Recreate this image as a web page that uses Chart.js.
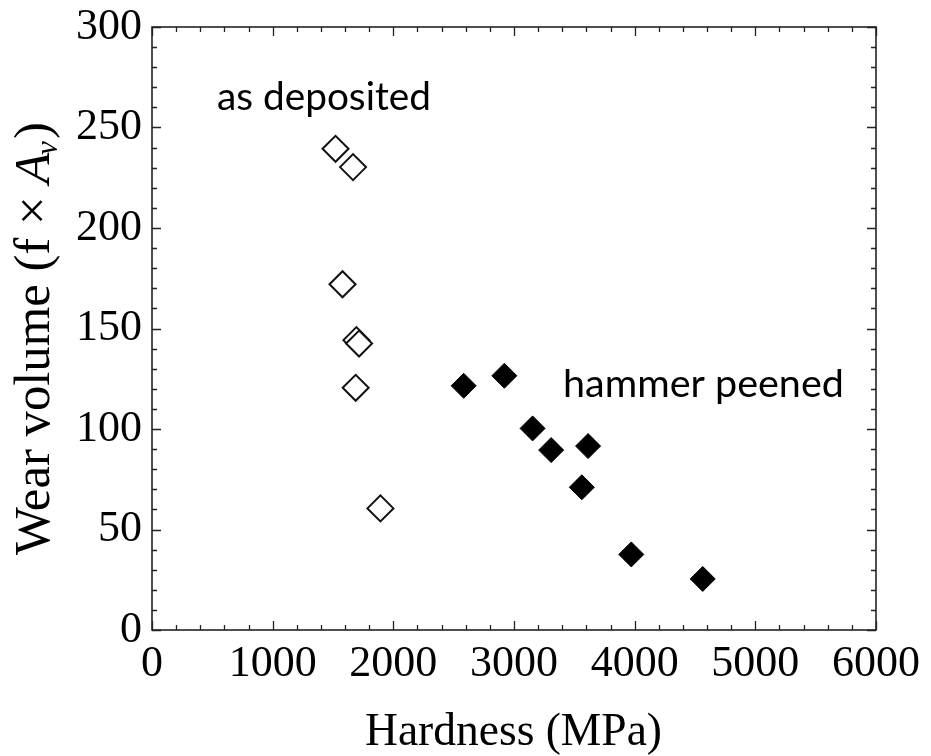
<!DOCTYPE html>
<html><head><meta charset="utf-8">
<script src="https://cdn.jsdelivr.net/npm/chart.js@4.4.0/dist/chart.umd.min.js"></script>
<style>html,body{margin:0;padding:0;background:#fff;overflow:hidden}#wrap{width:931px;height:756px;position:relative}</style>
</head><body><div id="wrap"><canvas id="c"></canvas></div>
<script>
// ---- data ----
const xTickLabels = ['0','1000','2000','3000','4000','5000','6000'];
const yTickLabels = ['0','50','100','150','200','250','300'];
const asDepositedHardness = [1521, 1666, 1579, 1694, 1716, 1688, 1893];
const asDepositedWear     = [239.4, 230.3, 172, 144.2, 142.5, 120.5, 60.5];
const peenedHardness = [2583, 2920, 3154, 3308, 3614, 3562, 3972, 4564];
const peenedWear     = [121.5, 126.5, 100.3, 89.5, 91.5, 71, 37.6, 25.4];
const seriesNames = ['as deposited', 'hammer peened'];
const xTitle = 'Hardness (MPa)';
const yTitleParts = ['Wear volume (f \u00d7 ', 'A', 'v', ')'];

const SERIF = '"Liberation Serif", "Times New Roman", serif';
const SANS = 'Lato, "Open Sans", sans-serif';

function fitFont(ctx, text, family, style, targetW) {
  ctx.font = style + '40px ' + family;
  const w = ctx.measureText(text).width;
  return 40 * targetW / w;
}

const framePlugin = {
  id: 'frame',
  afterDraw(chart) {
    const ctx = chart.ctx, xs = chart.scales.x, ys = chart.scales.y, a = chart.chartArea;
    ctx.save();
    ctx.strokeStyle = '#222';
    ctx.lineWidth = 1.6;
    ctx.strokeRect(a.left, a.top, a.right - a.left, a.bottom - a.top);
    ctx.lineWidth = 1.3;
    ctx.beginPath();
    for (let v = 0; v <= 6000; v += 200) {
      const p = Math.round(xs.getPixelForValue(v)) + 0.5;
      const len = v % 1000 === 0 ? 9 : 5;
      ctx.moveTo(p, a.bottom); ctx.lineTo(p, a.bottom - len);
      ctx.moveTo(p, a.top); ctx.lineTo(p, a.top + len);
    }
    for (let v = 0; v <= 300; v += 10) {
      const p = Math.round(ys.getPixelForValue(v)) + 0.5;
      const len = v % 50 === 0 ? 9 : 5;
      ctx.moveTo(a.left, p); ctx.lineTo(a.left + len, p);
      ctx.moveTo(a.right, p); ctx.lineTo(a.right - len, p);
    }
    ctx.stroke();

    // annotations (series names)
    ctx.fillStyle = '#000';
    ctx.textBaseline = 'alphabetic';
    ctx.textAlign = 'left';
    let fs = fitFont(ctx, seriesNames[0], SANS, '', 214);
    ctx.font = fs + 'px ' + SANS;
    ctx.fillText(seriesNames[0], 217, 110);
    fs = fitFont(ctx, seriesNames[1], SANS, '', 281);
    ctx.font = fs + 'px ' + SANS;
    ctx.fillText(seriesNames[1], 563, 397);

    // x title
    fs = fitFont(ctx, xTitle, SERIF, '', 297);
    ctx.font = fs + 'px ' + SERIF;
    ctx.textAlign = 'center';
    ctx.fillText(xTitle, 513.5, 745);

    // y title (rotated, with italic A and subscript v)
    ctx.textAlign = 'left';
    const base = 44;
    const fN = base + 'px ' + SERIF, fI = 'italic ' + base + 'px ' + SERIF, fS = 'italic ' + Math.round(base*0.62) + 'px ' + SERIF;
    ctx.font = fN; const w0 = ctx.measureText(yTitleParts[0]).width, w3 = ctx.measureText(yTitleParts[3]).width;
    ctx.font = fI; const w1 = ctx.measureText(yTitleParts[1]).width;
    ctx.font = fS; const w2 = ctx.measureText(yTitleParts[2]).width;
    const total = w0 + w1 + w2 + w3;
    const k = 433 / total;
    ctx.translate(49, 338.5);
    ctx.rotate(-Math.PI / 2);
    ctx.scale(k, k);
    let x = -total / 2;
    ctx.font = fN; ctx.fillText(yTitleParts[0], x, 0); x += w0;
    ctx.font = fI; ctx.fillText(yTitleParts[1], x, 0); x += w1;
    ctx.font = fS; ctx.fillText(yTitleParts[2], x - 2, 7); x += w2;
    ctx.font = fN; ctx.fillText(yTitleParts[3], x, 0);
    ctx.restore();
  }
};

const toPts = (xs, ys) => xs.map((v, i) => ({x: v, y: ys[i]}));

new Chart(document.getElementById('c'), {
  type: 'scatter',
  data: {
    datasets: [
      { label: seriesNames[0], data: toPts(asDepositedHardness, asDepositedWear),
        pointStyle: 'rectRot', pointRadius: 13, pointHoverRadius: 13,
        backgroundColor: '#fff', borderColor: '#111', borderWidth: 2 },
      { label: seriesNames[1], data: toPts(peenedHardness, peenedWear),
        pointStyle: 'rectRot', pointRadius: 12.5, pointHoverRadius: 12.5,
        backgroundColor: '#000', borderColor: '#000', borderWidth: 1 }
    ]
  },
  options: {
    responsive: true, maintainAspectRatio: false, animation: false,
    layout: { padding: { top: 27, right: 55, left: 0, bottom: 0 } },
    plugins: { legend: { display: false }, tooltip: { enabled: false } },
    scales: {
      x: {
        type: 'linear', min: 0, max: 6000,
        grid: { display: false, drawTicks: false },
        border: { display: false },
        afterFit(s) { s.height = 126; s.paddingLeft = 0; s.paddingRight = 0; },
        afterBuildTicks(s) { s.ticks = xTickLabels.map(t => ({ value: Number(t) })); },
        ticks: { padding: 8, color: '#000', font: { family: SERIF, size: 44 },
          maxRotation: 0, autoSkip: false,
          callback: (v) => xTickLabels[xTickLabels.indexOf(String(v))] }
      },
      y: {
        type: 'linear', min: 0, max: 300,
        grid: { display: false, drawTicks: false },
        border: { display: false },
        afterFit(s) { s.width = 152; s.paddingTop = 0; s.paddingBottom = 0; },
        afterBuildTicks(s) { s.ticks = yTickLabels.map(t => ({ value: Number(t) })); },
        ticks: { padding: 10, color: '#000', font: { family: SERIF, size: 44, lineHeight: 0.8 },
          autoSkip: false,
          callback: (v) => yTickLabels[yTickLabels.indexOf(String(v))] }
      }
    }
  },
  plugins: [framePlugin]
});
</script>
</body></html>
